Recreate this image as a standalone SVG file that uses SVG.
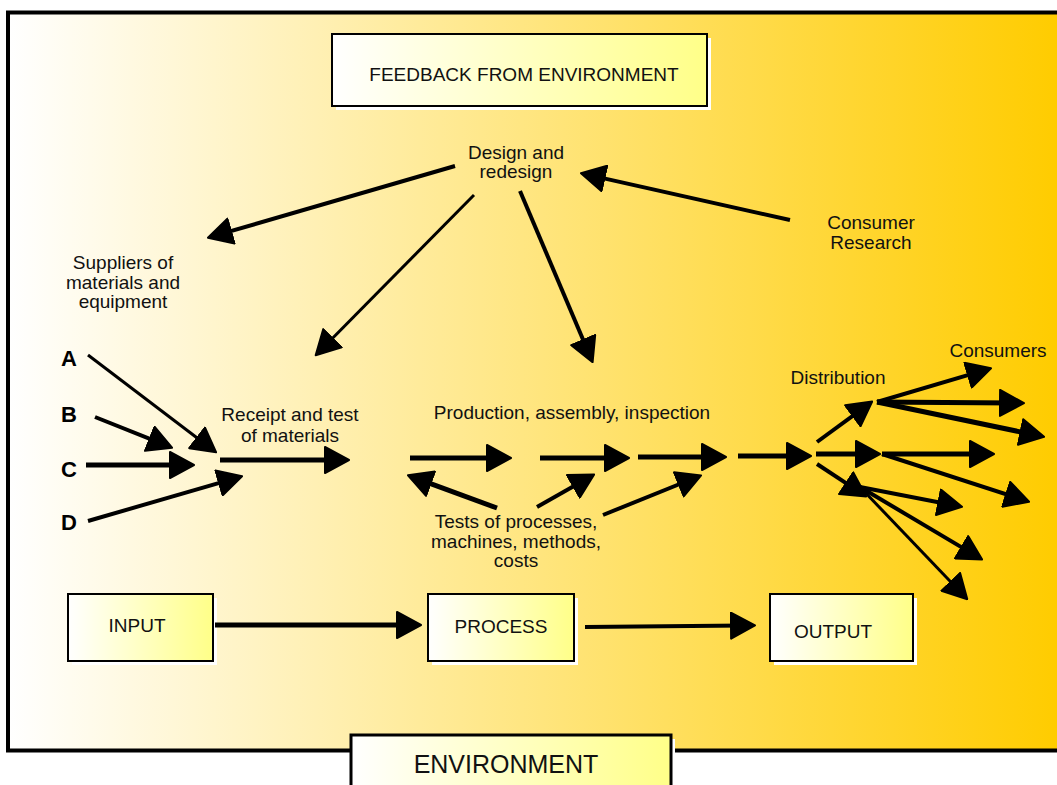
<svg xmlns="http://www.w3.org/2000/svg" width="1057" height="785" viewBox="0 0 1057 785">
  <defs>
    <linearGradient id="bg" gradientUnits="userSpaceOnUse" x1="8" y1="0" x2="1057" y2="0">
      <stop offset="0" stop-color="#ffffff"/>
      <stop offset="1" stop-color="#ffcc00"/>
    </linearGradient>
    <linearGradient id="boxFill" x1="0" y1="0" x2="1" y2="0">
      <stop offset="0" stop-color="#ffffff"/>
      <stop offset="1" stop-color="#ffff88"/>
    </linearGradient>
    <marker id="head" markerUnits="userSpaceOnUse" viewBox="0 0 26 28" markerWidth="26" markerHeight="28" refX="14" refY="14" orient="auto">
      <path d="M1,1 L25,14 L1,27 z" fill="#000" stroke="#000" stroke-width="2" stroke-linejoin="round"/>
    </marker>
    <style>
      .lbl { font-family: "Liberation Sans", Arial, sans-serif; font-size: 19px; fill: #111; text-anchor: middle; }
      .letter { font-family: "Liberation Sans", Arial, sans-serif; font-size: 22px; font-weight: bold; fill: #000; }
      .box { fill: url(#boxFill); stroke: #000; stroke-width: 2; }
      .shadow { fill: #ffffff; }
      .conn line { stroke: #000; marker-end: url(#head); }
      .w3 { stroke-width: 3; }
      .w4 { stroke-width: 4; }
      .w5 { stroke-width: 5; }
    </style>
  </defs>

  <rect width="1057" height="785" fill="#ffffff"/>

  <!-- environment frame -->
  <g id="environment-frame">
    <rect x="8" y="12.5" width="1100" height="738" fill="url(#bg)" stroke="#000" stroke-width="4"/>
  </g>

  <g id="feedback">
    <rect class="shadow" x="336" y="38" width="375" height="72"/>
    <rect class="box" x="332" y="34" width="375" height="72"/>
    <text class="lbl" x="524" y="81">FEEDBACK FROM ENVIRONMENT</text>
  </g>

  <g id="design">
    <text class="lbl" x="516" y="159">Design and</text>
    <text class="lbl" x="516" y="178">redesign</text>
  </g>

  <g id="consumer-research">
    <text class="lbl" x="871" y="229">Consumer</text>
    <text class="lbl" x="871" y="249">Research</text>
  </g>

  <g id="suppliers">
    <text class="lbl" x="123" y="269">Suppliers of</text>
    <text class="lbl" x="123" y="289">materials and</text>
    <text class="lbl" x="123" y="308">equipment</text>
  </g>

  <g id="sources">
    <text class="letter" x="61" y="366">A</text>
    <text class="letter" x="61" y="422">B</text>
    <text class="letter" x="61" y="477">C</text>
    <text class="letter" x="61" y="530">D</text>
  </g>

  <g id="receipt">
    <text class="lbl" x="290" y="421">Receipt and test</text>
    <text class="lbl" x="290" y="442">of materials</text>
  </g>

  <g id="production">
    <text class="lbl" x="572" y="419">Production, assembly, inspection</text>
  </g>

  <g id="tests">
    <text class="lbl" x="516" y="528">Tests of processes,</text>
    <text class="lbl" x="516" y="548">machines, methods,</text>
    <text class="lbl" x="516" y="567">costs</text>
  </g>

  <g id="distribution">
    <text class="lbl" x="838" y="384">Distribution</text>
  </g>

  <g id="consumers">
    <text class="lbl" x="998" y="357">Consumers</text>
  </g>

  <g id="input">
    <rect class="shadow" x="72" y="598" width="145" height="67"/>
    <rect class="box" x="68" y="594" width="145" height="67"/>
    <text class="lbl" x="137" y="632">INPUT</text>
  </g>

  <g id="process">
    <rect class="shadow" x="432" y="598" width="146" height="67"/>
    <rect class="box" x="428" y="594" width="146" height="67"/>
    <text class="lbl" x="501" y="633">PROCESS</text>
  </g>

  <g id="output">
    <rect class="shadow" x="774" y="598" width="143" height="67"/>
    <rect class="box" x="770" y="594" width="143" height="67"/>
    <text class="lbl" x="833" y="638">OUTPUT</text>
  </g>

  <g id="environment">
    <rect class="shadow" x="355" y="739" width="320" height="60"/>
    <rect x="351" y="735" width="320" height="60" fill="url(#boxFill)" stroke="#000" stroke-width="3"/>
    <text class="lbl" x="506" y="773" style="font-size:25px">ENVIRONMENT</text>
  </g>

  <!-- connectors: each line ends 12px short of its arrow tip -->
  <g id="connectors" class="conn">
    <!-- from design and redesign -->
    <line class="w4" x1="455" y1="166" x2="218.5" y2="234.7"/>
    <line class="w3" x1="474" y1="195" x2="323.4" y2="347.5"/>
    <line class="w4" x1="520" y1="191" x2="588.3" y2="352"/>
    <!-- consumer research back to design -->
    <line class="w4" x1="790" y1="220" x2="591.7" y2="175.6"/>
    <!-- suppliers A-D into receipt -->
    <line class="w3" x1="88" y1="355" x2="207.4" y2="445.7"/>
    <line class="w4" x1="95" y1="417" x2="161.8" y2="443.6"/>
    <line class="w5" x1="86" y1="465" x2="183" y2="465"/>
    <line class="w4" x1="88" y1="521" x2="231.5" y2="479.3"/>
    <!-- main flow -->
    <line class="w5" x1="220" y1="460" x2="338" y2="460"/>
    <line class="w5" x1="410" y1="458" x2="500" y2="458"/>
    <line class="w5" x1="540" y1="458" x2="618" y2="458"/>
    <line class="w5" x1="638" y1="457" x2="715" y2="457"/>
    <line class="w5" x1="738" y1="456" x2="800" y2="456"/>
    <!-- tests feedback -->
    <line class="w5" x1="497" y1="508" x2="418.3" y2="479.1"/>
    <line class="w4" x1="537" y1="507" x2="584.6" y2="479.9"/>
    <line class="w4" x1="603" y1="515" x2="690.9" y2="479.5"/>
    <!-- distribution split -->
    <line class="w4" x1="817" y1="442" x2="863.3" y2="408.1"/>
    <line class="w5" x1="816" y1="454" x2="869" y2="454"/>
    <line class="w4" x1="817" y1="464" x2="857" y2="490.4"/>
    <!-- to consumers -->
    <line class="w4" x1="877" y1="402" x2="980.5" y2="371.4"/>
    <line class="w5" x1="877" y1="402" x2="1013" y2="403"/>
    <line class="w5" x1="877" y1="402" x2="1033.3" y2="434.6"/>
    <line class="w5" x1="882" y1="454" x2="983" y2="454"/>
    <line class="w4" x1="882" y1="454" x2="1018.6" y2="498.3"/>
    <line class="w4" x1="860" y1="487" x2="951.2" y2="504.7"/>
    <line class="w4" x1="860" y1="487" x2="972.7" y2="553.9"/>
    <line class="w3" x1="860" y1="487" x2="959.7" y2="591.3"/>
    <!-- input, process, output -->
    <line class="w5" x1="215" y1="625" x2="410" y2="625"/>
    <line class="w4" x1="585" y1="627" x2="744" y2="625.5"/>
  </g>
</svg>
